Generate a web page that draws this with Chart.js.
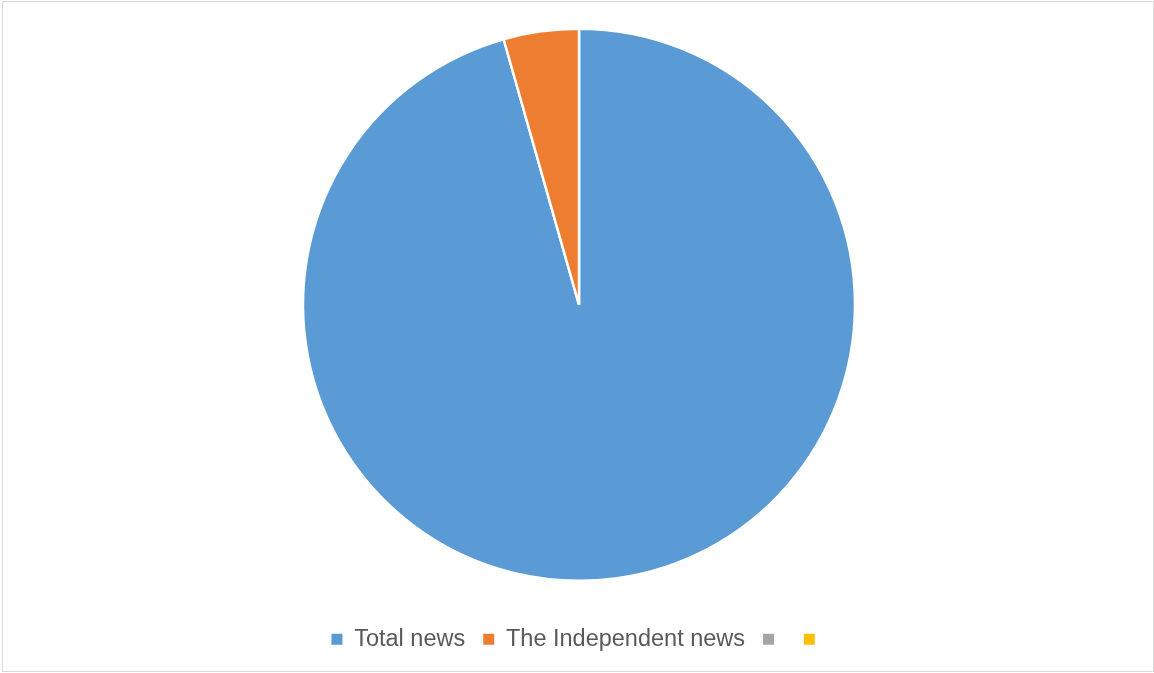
<!DOCTYPE html>
<html>
<head>
<meta charset="utf-8">
<script src="https://cdn.jsdelivr.net/npm/chart.js@4/dist/chart.umd.min.js"></script>
<style>
  html, body { margin: 0; padding: 0; background: #ffffff; }
  #wrap { position: relative; width: 1154px; height: 673px; }
  #frame { position: absolute; left: 2px; top: 1px; width: 1150px; height: 669px; border: 1px solid #d9d9d9; pointer-events: none; }
  #c { position: absolute; left: 0; top: 0; }
</style>
</head>
<body>
<div id="wrap">
  <canvas id="c" width="1154" height="673"></canvas>
  <div id="frame"></div>
</div>
<script>
// Share of news items
const categories = ['Total news', 'The Independent news', '', ''];
const shares = [95.6, 4.4, 0, 0];
const sliceColors = ['#5B9BD5', '#ED7D31', '#A5A5A5', '#FFC000'];

new Chart(document.getElementById('c'), {
  type: 'pie',
  data: {
    labels: categories,
    datasets: [{
      data: shares,
      backgroundColor: sliceColors,
      borderColor: '#ffffff',
      borderWidth: 2.5,
      radius: 276
    }]
  },
  options: {
    responsive: false,
    animation: false,
    layout: { padding: { top: 0, bottom: 12, left: 4, right: 0 } },
    plugins: {
      tooltip: { enabled: false },
      legend: {
        position: 'bottom',
        labels: {
          boxWidth: 11,
          boxHeight: 11,
          padding: 18,
          color: '#595959',
          font: { family: 'Liberation Sans, Arial, sans-serif', size: 23.5 },
          // solid legend swatches without the white slice outline
          generateLabels(chart) {
            const items = Chart.overrides.pie.plugins.legend.labels.generateLabels(chart);
            items.forEach(it => { it.lineWidth = 0; it.strokeStyle = 'rgba(0,0,0,0)'; });
            return items;
          }
        }
      }
    }
  }
});
</script>
</body>
</html>
